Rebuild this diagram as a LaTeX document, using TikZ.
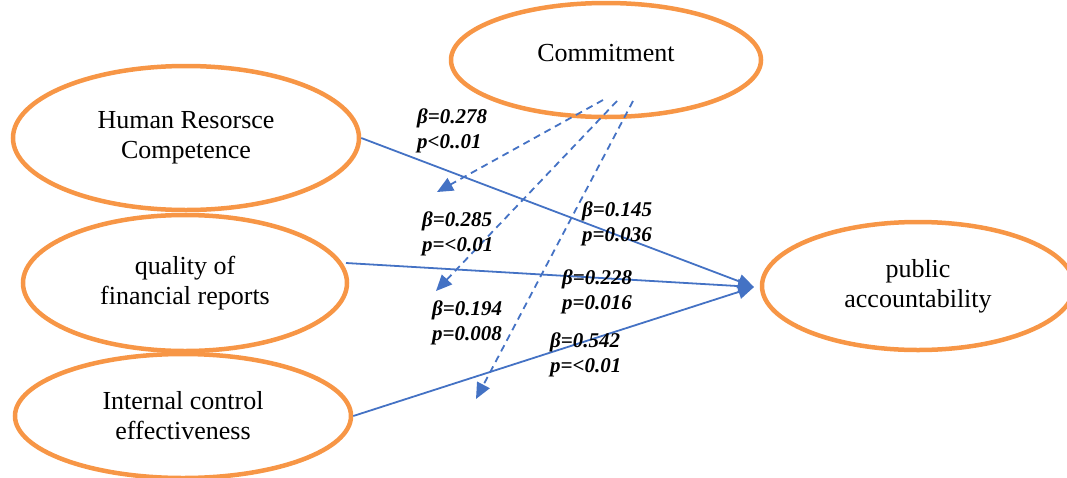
\documentclass[tikz,border=0pt]{standalone}
\usepackage{fontspec}
\setmainfont{Liberation Serif}
\usetikzlibrary{shapes.geometric,arrows.meta}
\definecolor{ovalc}{RGB}{247,150,70}
\definecolor{linec}{RGB}{68,114,196}
\tikzset{
  oval/.style={ellipse, draw=ovalc, line width=4.5pt, inner sep=0pt, align=center,
    font=\fontsize{26}{30}\selectfont},
  path/.style={draw=linec, line width=1.8pt, -{Triangle[length=16pt,width=14pt]}},
  modpath/.style={path, dashed, dash pattern=on 7pt off 5pt},
  lab/.style={align=left, anchor=north west, inner sep=0pt,
    font=\fontsize{21}{24.5}\selectfont\bfseries\itshape}
}
\begin{document}
\begin{tikzpicture}[x=1pt,y=-1pt]
\useasboundingbox (0,0) rectangle (1067,477);
\clip (0,0) rectangle (1067,477);
\node[oval, minimum width=310pt, minimum height=114pt] (com) at (606,60) {\raisebox{14pt}{Commitment}};
\node[oval, minimum width=346pt, minimum height=144pt] (hr) at (186,138) {Human Resorsce\\Competence};
\node[oval, minimum width=324pt, minimum height=136pt] (qf) at (185,283) {quality of\\financial reports};
\node[oval, minimum width=336pt, minimum height=124pt] (ic) at (183,416) {Internal control\\effectiveness};
\node[oval, minimum width=312pt, minimum height=128pt] (pa) at (918,286) {public\\accountability};

\coordinate (tip) at (754,287);
\coordinate (c1) at (603,100);
\coordinate (c2) at (617,101);
\coordinate (c3) at (633,101);
\coordinate (e1) at (437,192);
\coordinate (e2) at (436,291);
\coordinate (e3) at (476,399);

\draw[path] (hr.east) -- (tip);
\draw[path] (346,263) -- (tip);
\draw[path] (ic.east) -- (tip);

\draw[modpath] (c1) -- (e1);
\draw[modpath] (c2) -- (e2);
\draw[modpath] (c3) -- (e3);

\node[lab] (l1) at (417,109) {β=0.278\\p<0..01};
\node[lab] (l2) at (422,212) {β=0.285\\p=<0.01};
\node[lab] (l3) at (432,301) {β=0.194\\p=0.008};
\node[lab] (l4) at (582,202) {β=0.145\\p=0.036};
\node[lab] (l5) at (562,270) {β=0.228\\p=0.016};
\node[lab] (l6) at (550,333) {β=0.542\\p=<0.01};
\end{tikzpicture}
\end{document}
